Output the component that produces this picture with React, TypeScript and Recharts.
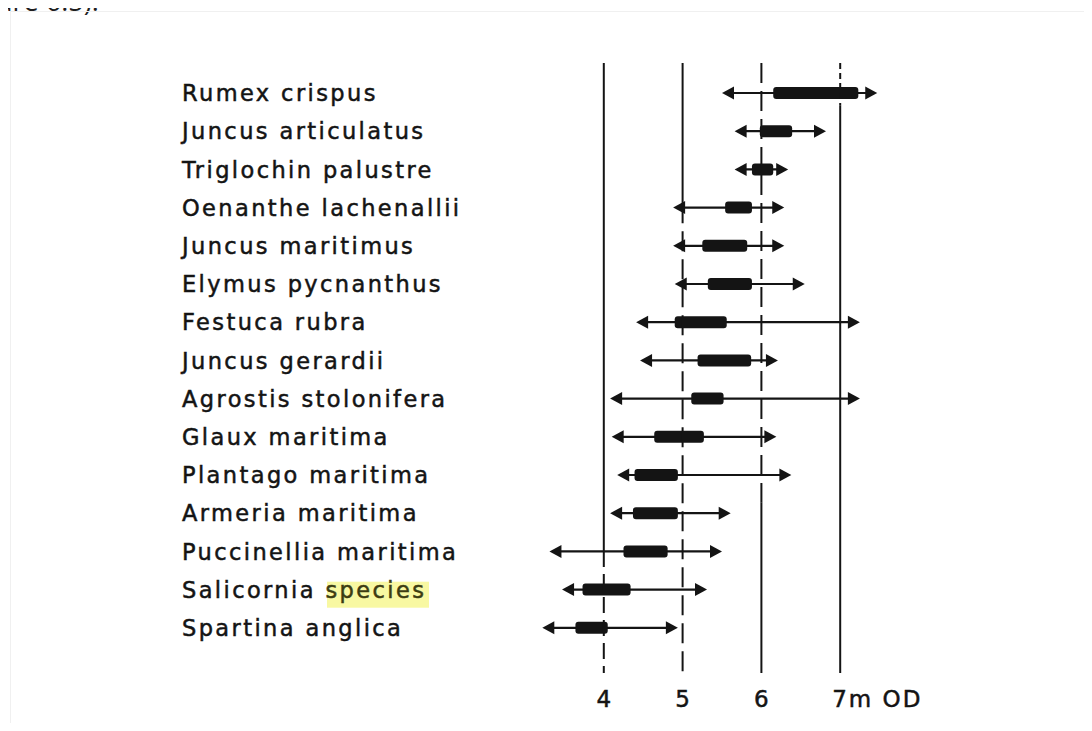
import { ComposedChart, Bar, XAxis, YAxis, ReferenceLine } from "recharts";

// species zonation against tidal level (m OD)
const species = [
  "Rumex crispus",
  "Juncus articulatus",
  "Triglochin palustre",
  "Oenanthe lachenallii",
  "Juncus maritimus",
  "Elymus pycnanthus",
  "Festuca rubra",
  "Juncus gerardii",
  "Agrostis stolonifera",
  "Glaux maritima",
  "Plantago maritima",
  "Armeria maritima",
  "Puccinellia maritima",
  "Salicornia species",
  "Spartina anglica",
];

// full range (arrow tips)
const rangeLow = [5.5, 5.66, 5.66, 4.88, 4.88, 4.9, 4.41, 4.46, 4.08, 4.1, 4.17, 4.08, 3.31, 3.47, 3.22];
const rangeHigh = [7.47, 6.82, 6.34, 6.29, 6.29, 6.55, 7.25, 6.21, 7.25, 6.19, 6.38, 5.61, 5.5, 5.31, 4.94];

// main range (thick bar)
const coreLow = [6.15, 5.98, 5.88, 5.54, 5.25, 5.32, 4.9, 5.19, 5.11, 4.64, 4.39, 4.37, 4.25, 3.73, 3.64];
const coreHigh = [7.23, 6.39, 6.15, 5.88, 5.82, 5.88, 5.56, 5.87, 5.52, 5.27, 4.94, 4.94, 4.81, 4.34, 4.05];

const levels = [4, 5, 6, 7];
const levelLabels = ["4", "5", "6", "7m OD"];
const highlightWord = "species";

const rows = species.map((name, i) => ({
  name,
  low: rangeLow[i],
  high: rangeHigh[i],
  coreLow: coreLow[i],
  coreHigh: coreHigh[i],
}));

const INK = "#141414";
const FONT = "'DejaVu Sans', sans-serif";

// the scanned guide lines change between solid and broken along their length
const lineStyle: Record<number, { split: number; top?: string; bottom?: string }> = {
  4: { split: 0.8, bottom: "16 7" },
  5: { split: 0.23, bottom: "20 8" },
  6: { split: 0.72, top: "20 8" },
  7: { split: 0.07, top: "6 4" },
};

const guideShape = (level: number) => (props: any) => {
  const { x1, y1, y2 } = props;
  const top = Math.min(y1, y2);
  const bottom = Math.max(y1, y2);
  const s = lineStyle[level];
  const mid = top + (bottom - top) * s.split;
  return (
    <g>
      <line x1={x1} x2={x1} y1={top} y2={mid} stroke={INK} strokeWidth={2} strokeDasharray={s.top} />
      <line x1={x1} x2={x1} y1={mid} y2={bottom} stroke={INK} strokeWidth={2} strokeDasharray={s.bottom} />
    </g>
  );
};

const RangeArrow = (props: any) => {
  const { x, y, width, height } = props;
  if (width == null) return null;
  const cy = y + height / 2;
  const head = 12;
  const half = 6.5;
  const left = x;
  const right = x + width;
  return (
    <g>
      <line x1={left + 4} x2={right - 4} y1={cy} y2={cy} stroke={INK} strokeWidth={2.2} />
      <polygon points={`${left},${cy} ${left + head},${cy - half} ${left + head},${cy + half}`} fill={INK} />
      <polygon points={`${right},${cy} ${right - head},${cy - half} ${right - head},${cy + half}`} fill={INK} />
    </g>
  );
};

const labelStyle = {
  fontFamily: FONT,
  fontSize: 22.5,
  letterSpacing: 2.4,
  fill: INK,
  stroke: INK,
  strokeWidth: 0.5,
};

const SpeciesTick = (props: any) => {
  const { y, payload } = props;
  const name: string = payload.value;
  const labelX = 182;
  const idx = name.indexOf(highlightWord);
  if (idx < 0) {
    return (
      <text x={labelX} y={y + 8} {...labelStyle}>
        {name}
      </text>
    );
  }
  return (
    <g>
      <rect x={labelX + 145} y={y - 8} width={102} height={26} fill="#f8f8a2" />
      <text x={labelX} y={y + 8} {...labelStyle}>
        {name.slice(0, idx)}
        <tspan fill="#3c3c12" stroke="#3c3c12">{highlightWord}</tspan>
      </text>
    </g>
  );
};

const LevelTick = (props: any) => {
  const { x, y, payload } = props;
  const i = levels.indexOf(payload.value);
  const last = i === levels.length - 1;
  return (
    <text
      x={last ? x - 8 : x}
      y={y + 26}
      textAnchor={last ? "start" : "middle"}
      fontFamily={FONT}
      fontSize={23}
      letterSpacing={last ? 2 : 0}
      fill={INK}
      stroke={INK}
      strokeWidth={0.5}
    >
      {levelLabels[i]}
    </text>
  );
};

export default function App() {
  return (
    <div style={{ position: "relative", width: 1092, height: 731, margin: -8, background: "#fff", overflow: "hidden" }}>
      <svg width={140} height={24} style={{ position: "absolute", left: 0, top: 0 }}>
        <text x={-4} y={11} fontFamily="'Open Sans', sans-serif" fontSize={27} fill="#1e1e1e">
          ure 6.5).
        </text>
      </svg>
      <div
        style={{
          position: "absolute",
          left: 10,
          top: 11,
          width: 1100,
          height: 740,
          borderLeft: "1px solid #f0f0f0",
          borderTop: "1px solid #f0f0f0",
        }}
      />
      <div style={{ position: "absolute", left: 0, top: 0 }}>
        <ComposedChart
          layout="vertical"
          width={1092}
          height={731}
          data={rows}
          margin={{ top: 63, right: 173, bottom: 18, left: 0 }}
        >
          <XAxis
            type="number"
            domain={[3, 8]}
            ticks={levels}
            axisLine={false}
            tickLine={false}
            tick={<LevelTick />}
            height={40}
            allowDataOverflow
          />
          <YAxis
            yAxisId="rows"
            type="category"
            dataKey="name"
            width={525}
            axisLine={false}
            tickLine={false}
            interval={0}
            padding={{ top: 11, bottom: 26 }}
            tick={<SpeciesTick />}
          />
          <YAxis
            yAxisId="core"
            type="category"
            dataKey="name"
            hide
            padding={{ top: 11, bottom: 26 }}
          />
          {levels.map((v) => (
            <ReferenceLine key={v} yAxisId="rows" x={v} shape={guideShape(v)} />
          ))}
          <Bar
            yAxisId="rows"
            dataKey={(d: any) => [d.low, d.high]}
            barSize={14}
            shape={<RangeArrow />}
            isAnimationActive={false}
          />
          <Bar
            yAxisId="core"
            dataKey={(d: any) => [d.coreLow, d.coreHigh]}
            barSize={12}
            fill={INK}
            radius={3}
            isAnimationActive={false}
          />
        </ComposedChart>
      </div>
    </div>
  );
}
